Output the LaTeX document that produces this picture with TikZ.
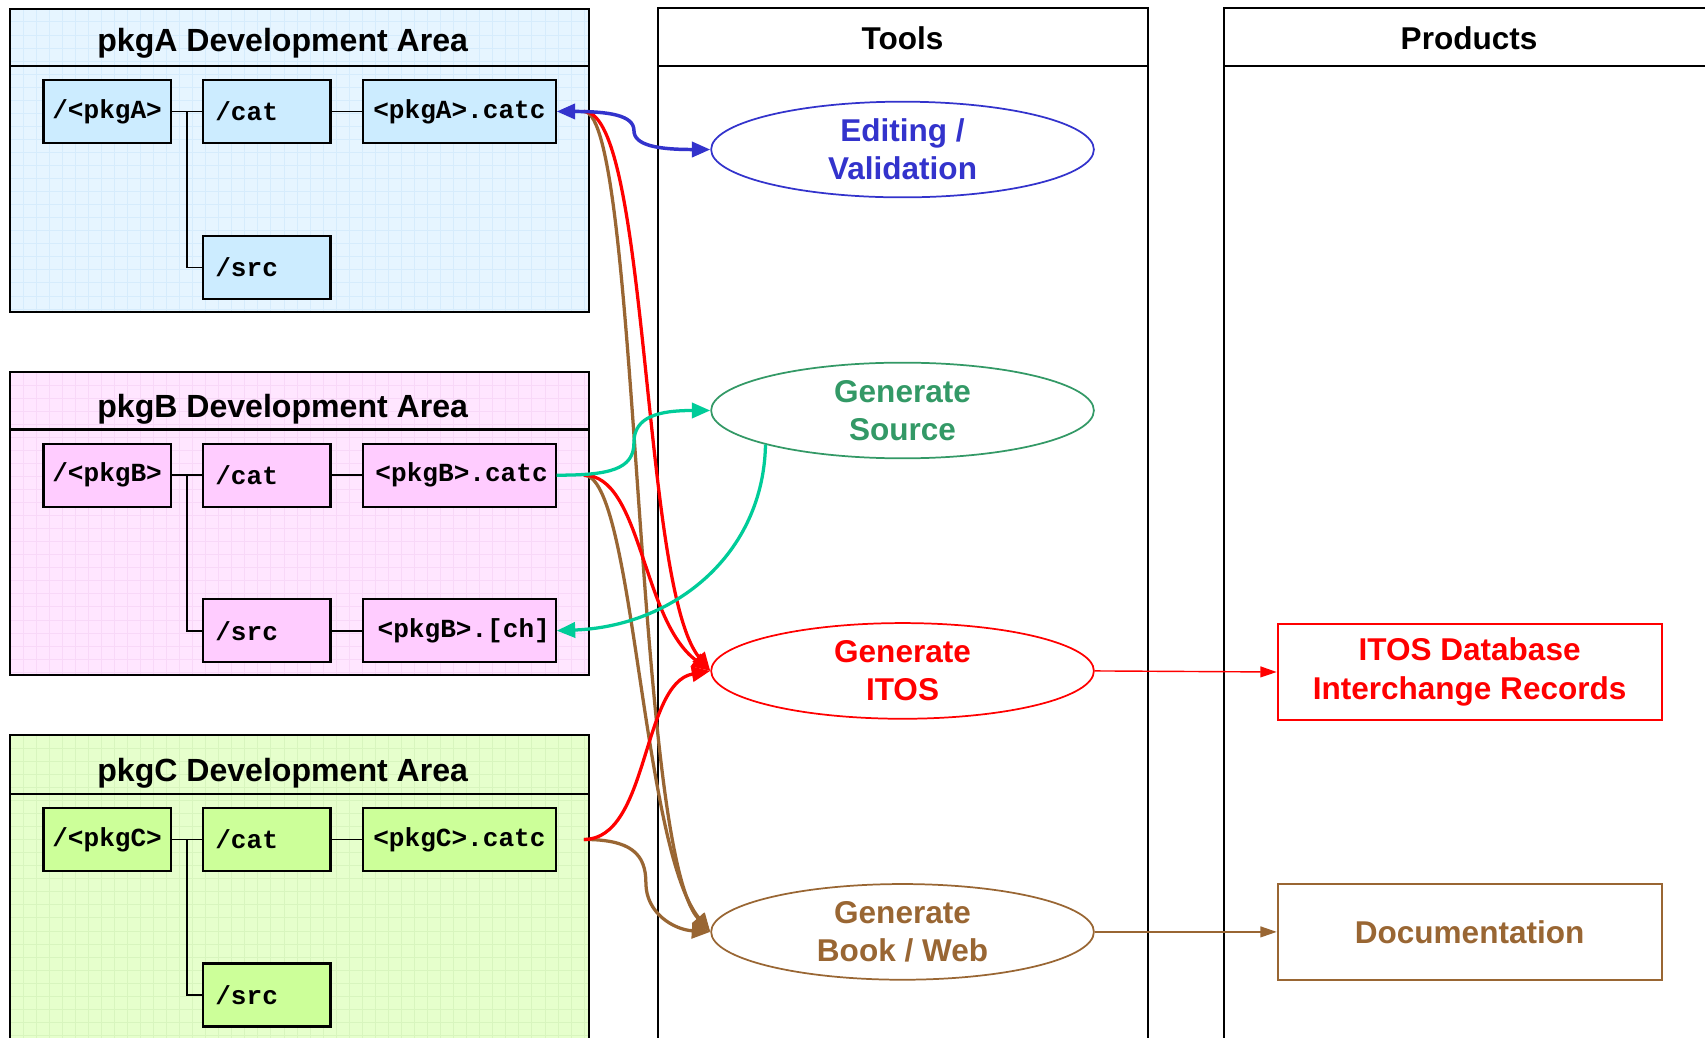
\documentclass[tikz,border=0pt]{standalone}
\usepackage{fontspec}
\setmainfont{Liberation Sans}
\newfontfamily\monofnt{Liberation Mono}
\usetikzlibrary{shapes.geometric,arrows.meta,calc}
\definecolor{cblue}{HTML}{3333CC}
\definecolor{cgreen}{HTML}{339966}
\definecolor{cteal}{HTML}{00CC99}
\definecolor{cred}{HTML}{FF0000}
\definecolor{cbrown}{HTML}{996633}
\definecolor{bgA}{HTML}{E6F5FF}
\definecolor{grA}{HTML}{D6ECFC}
\definecolor{bxA}{HTML}{CCECFF}
\definecolor{bgB}{HTML}{FFE6FF}
\definecolor{grB}{HTML}{F8D8F8}
\definecolor{bxB}{HTML}{FFCCFF}
\definecolor{bgC}{HTML}{E6FFCC}
\definecolor{grC}{HTML}{D8F5BE}
\definecolor{bxC}{HTML}{CCFF99}
\begin{document}
\begin{tikzpicture}[x=1pt,y=-1pt,
  area/.style={draw=black,line width=2pt},
  colbox/.style={draw=black,line width=1.7pt},
  titletext/.style={font=\bfseries\fontsize{29.5}{35}\selectfont,inner sep=0pt},
  dirbox/.style={draw=black,line width=2pt,minimum height=58pt,inner sep=0pt,
    font=\monofnt\bfseries\fontsize{24}{28}\selectfont},
  dirC/.style={dirbox,minimum width=#1},
  dirL/.style={dirbox,text width=95pt,inner xsep=11pt,align=left},
  tree/.style={draw=black,line width=1.6pt},
  tool/.style={ellipse,line width=1.6pt,minimum width=352pt,minimum height=88pt,inner sep=0pt,
    align=center,font=\bfseries\fontsize{29}{35}\selectfont},
  prod/.style={rectangle,line width=1.8pt,minimum width=353pt,minimum height=88pt,inner sep=0pt,
    align=center,font=\bfseries\fontsize{29}{36}\selectfont},
  thick arr/.style={line width=3pt,-{Triangle[length=17pt,width=14pt]}},
  thin arr/.style={line width=1.3pt,-{Triangle[length=15pt,width=10pt]}},
  gridline/.style={line width=0.5pt},
]
\clip (0,0) rectangle (1568,954);
\fill[white] (0,0) rectangle (1568,954);

% ---------- development areas ----------
\fill[bgA] (9,8) rectangle (542,287);
\foreach \gx in {21,33,...,537} \draw[grA,gridline] (\gx,8) -- (\gx,287);
\foreach \gy in {20,32,...,285} \draw[grA,gridline] (9,\gy) -- (542,\gy);
\draw[area] (9,8) rectangle (542,287);
\draw[area] (9,61) -- (542,61);

\fill[bgB] (9,342) rectangle (542,621);
\foreach \gx in {21,33,...,537} \draw[grB,gridline] (\gx,342) -- (\gx,621);
\foreach \gy in {354,366,...,619} \draw[grB,gridline] (9,\gy) -- (542,\gy);
\draw[area] (9,342) rectangle (542,621);
\draw[area] (9,395) -- (542,395);

\fill[bgC] (9,676) rectangle (542,980);
\foreach \gx in {21,33,...,537} \draw[grC,gridline] (\gx,676) -- (\gx,980);
\foreach \gy in {688,700,...,960} \draw[grC,gridline] (9,\gy) -- (542,\gy);
\draw[area] (9,676) rectangle (542,980);
\draw[area] (9,730) -- (542,730);

\node[titletext] (tA) at (260,40) {pkgA Development Area};
\node[titletext] (tB) at (260,376) {pkgB Development Area};
\node[titletext] (tC) at (260,711) {pkgC Development Area};

% pkgA
\node[dirC=117pt,fill=bxA] (rootA) at (98.5,102.5) {/<pkgA>};
\node[dirL,fill=bxA] (catA) at (245.5,102.5) {/cat};
\node[dirC=177pt,fill=bxA] (catcA) at (422.5,102.5) {<pkgA>.catc};
\node[dirL,fill=bxA] (srcA) at (245.5,246) {/src};
\coordinate (jA) at (172,102.5);
\draw[tree] (rootA.east) -- (catA.west);
\draw[tree] (jA) |- (srcA.west);
\draw[tree] (catA.east) -- (catcA.west);

% pkgB
\node[dirC=117pt,fill=bxB] (rootB) at (98.5,437) {/<pkgB>};
\node[dirL,fill=bxB] (catB) at (245.5,437) {/cat};
\node[dirC=177pt,fill=bxB] (catcB) at (422.5,437) {\hspace{4pt}<pkgB>.catc};
\node[dirL,fill=bxB] (srcB) at (245.5,580) {/src};
\node[dirC=177pt,fill=bxB] (chB) at (422.5,580) {\hspace{8pt}<pkgB>.[ch]};
\coordinate (jB) at (172,437);
\draw[tree] (rootB.east) -- (catB.west);
\draw[tree] (jB) |- (srcB.west);
\draw[tree] (catB.east) -- (catcB.west);
\draw[tree] (srcB.east) -- (chB.west);

% pkgC
\node[dirC=117pt,fill=bxC] (rootC) at (98.5,772) {/<pkgC>};
\node[dirL,fill=bxC] (catC) at (245.5,772) {/cat};
\node[dirC=177pt,fill=bxC] (catcC) at (422.5,772) {<pkgC>.catc};
\node[dirL,fill=bxC] (srcC) at (245.5,915) {/src};
\coordinate (jC) at (172,772);
\draw[tree] (rootC.east) -- (catC.west);
\draw[tree] (jC) |- (srcC.west);
\draw[tree] (catC.east) -- (catcC.west);

% ---------- columns ----------
\draw[colbox] (605,7) rectangle (1056,990);
\draw[colbox] (605,61) -- (1056,61);
\node[titletext,font=\bfseries\fontsize{29}{35}\selectfont] (tools) at (830,35) {Tools};
\draw[colbox] (1126,7) rectangle (1600,990);
\draw[colbox] (1126,61) -- (1600,61);
\node[titletext,font=\bfseries\fontsize{29}{35}\selectfont] (prods) at (1351,35) {Products};

% ---------- tools ----------
\node[tool,draw=cblue,text=cblue] (edit) at (830,137.5) {Editing /\\Validation};
\node[tool,draw=cgreen,text=cgreen] (gsrc) at (830,377.5) {Generate\\Source};
\node[tool,draw=cred,text=cred] (gitos) at (830,617) {Generate\\ITOS};
\node[tool,draw=cbrown,text=cbrown] (gbook) at (830,857) {Generate\\Book / Web};

% ---------- products ----------
\node[prod,draw=cred,text=cred] (itosrec) at (1351.5,618) {ITOS Database\\Interchange Records};
\node[prod,draw=cbrown,text=cbrown] (doc) at (1351.5,857) {Documentation};

\draw[thin arr,cred] (gitos.east) -- (itosrec.west);
\draw[thin arr,cbrown] (gbook.east) -- (doc.west);

% ---------- connectors ----------
\coordinate (oA) at ([xshift=25pt]catcA.east);
\coordinate (oB) at ([xshift=25pt]catcB.east);
\coordinate (oC) at ([xshift=25pt]catcC.east);

\draw[line width=3pt,cbrown,-{Triangle[length=17pt,width=14pt]}] (oA) .. controls (588,103) and (583,780) .. (gbook.west);
\draw[line width=3pt,cbrown,-{Triangle[length=17pt,width=14pt]}] (oB) .. controls (583,437) and (590,780) .. (gbook.west);
\draw[line width=3pt,cbrown,-{Triangle[length=17pt,width=14pt]}] (oC) .. controls (580,772) and (594,785) .. (594,812) .. controls (594,840) and (620,855) .. (gbook.west);

\draw[thick arr,cred] (oA) .. controls (597,103) and (590,540) .. (gitos.west);
\draw[thick arr,cred] (oB) .. controls (590,437) and (590,570) .. (gitos.west);
\draw[thick arr,cred] (oC) .. controls (597,772) and (590,628) .. (gitos.west);

\draw[line width=3pt,cteal,-{Triangle[length=17pt,width=14pt]}] (catcB.east) .. controls (560,437) and (583,432) .. (583,407) .. controls (583,383) and (606,377.5) .. (gsrc.west);
\draw[line width=3pt,cteal,-{Triangle[length=17pt,width=14pt]}] (gsrc.194) .. controls (702,510) and (620,576) .. (chB.east);

\draw[line width=3.2pt,cblue,{Triangle[length=17pt,width=14pt]}-{Triangle[length=17pt,width=14pt]}] (catcA.east) .. controls (560,102.5) and (583,106) .. (583,120) .. controls (583,134) and (606,137.5) .. (edit.west);
\end{tikzpicture}
\end{document}
